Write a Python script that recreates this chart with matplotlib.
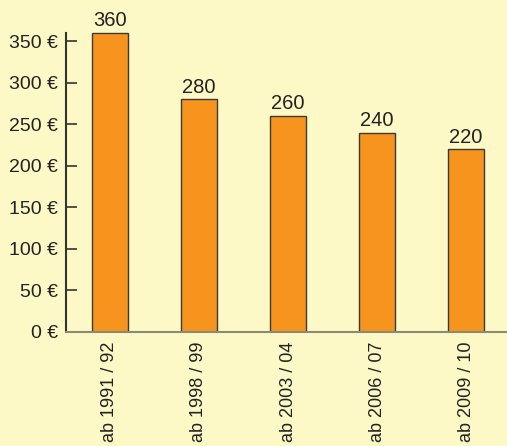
import matplotlib.pyplot as plt

plt.rcParams['font.family'] = ['Liberation Sans', 'DejaVu Sans']

# data
periods = ['ab 1991 / 92', 'ab 1998 / 99', 'ab 2003 / 04', 'ab 2006 / 07', 'ab 2009 / 10']
amounts = [360, 280, 260, 240, 220]
yticks = [0, 50, 100, 150, 200, 250, 300, 350]

bg = '#FDF9C6'

fig = plt.figure(figsize=(5.07, 4.46), dpi=100, facecolor=bg)
ax = fig.add_axes([66 / 507, 114 / 446, 1 - 66 / 507, 332 / 446])
ax.set_facecolor(bg)

x = range(len(periods))
bars = ax.bar(x, amounts, width=0.4, color='#F7941D', edgecolor='#3a3a3a', linewidth=1.0)

for xi, v in zip(x, amounts):
    ax.text(xi, v + 3, str(v), ha='center', va='bottom', fontsize=14.5, color='#222222')

ax.set_xlim(-0.494, 4.46)
ax.set_ylim(0, 399.5)

ax.spines['top'].set_visible(False)
ax.spines['right'].set_visible(False)
ax.spines['left'].set_color('#333333')
ax.spines['left'].set_linewidth(1.5)
ax.spines['left'].set_bounds(0, 360)
ax.spines['bottom'].set_color('#8a8a78')
ax.spines['bottom'].set_linewidth(1.5)

ax.set_yticks(yticks)
ax.set_yticklabels([f'{t} €' for t in yticks])
ax.tick_params(axis='y', direction='in', length=8, width=1.2, color='#333333',
               labelsize=14, labelcolor='#222222', pad=6)

ax.set_xticks(list(x))
ax.set_xticklabels(periods, rotation=90, va='top', ha='center')
ax.tick_params(axis='x', length=0, labelsize=13, labelcolor='#222222', pad=7)

fig.savefig('out.png', dpi=100, facecolor=bg)
